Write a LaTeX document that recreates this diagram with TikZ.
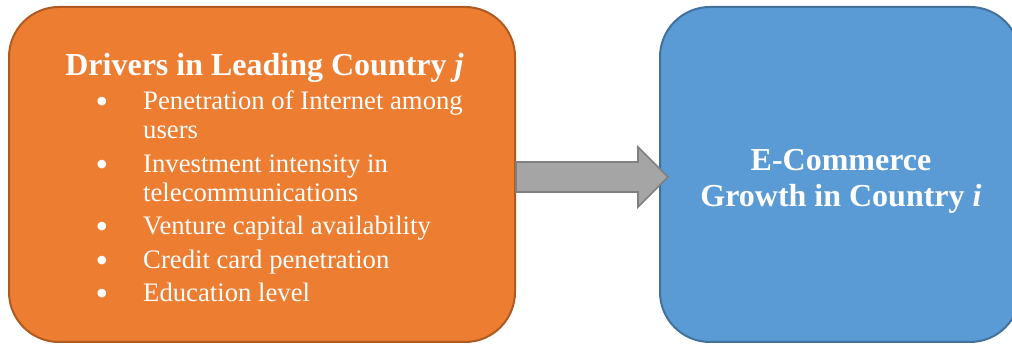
\documentclass[tikz,border=0pt]{standalone}
\usepackage{fontspec}
\setmainfont{Liberation Serif}
\usetikzlibrary{calc}
\definecolor{orangefill}{HTML}{ED7D31}
\definecolor{orangeline}{HTML}{AE5A21}
\definecolor{bluefill}{HTML}{5B9BD5}
\definecolor{blueline}{HTML}{41719C}
\definecolor{grayfill}{HTML}{A5A5A5}
\definecolor{grayline}{HTML}{7F7F7F}
\newcommand{\bitem}[1]{\makebox[0pt][r]{\raisebox{-4pt}{\fontsize{36}{29}\selectfont\textbullet}\hspace{35pt}}#1}
\tikzset{
  roundbox/.style={rounded corners=50pt, line width=2pt, inner sep=0pt},
  orangebox/.style={roundbox, fill=orangefill, draw=orangeline},
  bluebox/.style={roundbox, fill=bluefill, draw=blueline},
  blockarrow/.style={fill=grayfill, draw=grayline, line width=1.6pt, line join=miter},
  titletext/.style={text=white, font=\fontsize{32}{36}\selectfont\bfseries, align=center, inner sep=0pt},
  listtext/.style={text=white, font=\fontsize{26.7}{29}\selectfont, align=left, inner sep=0pt}
}
\begin{document}
\begin{tikzpicture}[x=1pt,y=-1pt]
\useasboundingbox (0,0) rectangle (1012,344);
\node[orangebox, minimum width=506pt, minimum height=335pt] (left) at (262,174.5) {};
\node[bluebox, minimum width=360pt, minimum height=335pt] (right) at (840,174.5) {};
\node[titletext, anchor=base] (title) at (264.5,76) {Drivers in Leading Country \textit{j}};
\node[listtext, anchor=north west] (list) at (143,91) {%
\bitem{Penetration of Internet among}\\ users\\[4.5pt]
\bitem{Investment intensity in}\\ telecommunications\\[4.5pt]
\bitem{Venture capital availability}\\[4.5pt]
\bitem{Credit card penetration}\\[4.5pt]
\bitem{Education level}};
\node[titletext, anchor=north] (rtext) at (841,149.5) {E-Commerce\\ Growth in Country \textit{i}};
\coordinate (tip) at (668,177);
\draw[blockarrow] (left.east |- 0,162) -- (638,162) -- (638,147) -- (tip) -- (638,207) -- (638,192) -- (left.east |- 0,192) -- cycle;
\end{tikzpicture}
\end{document}
